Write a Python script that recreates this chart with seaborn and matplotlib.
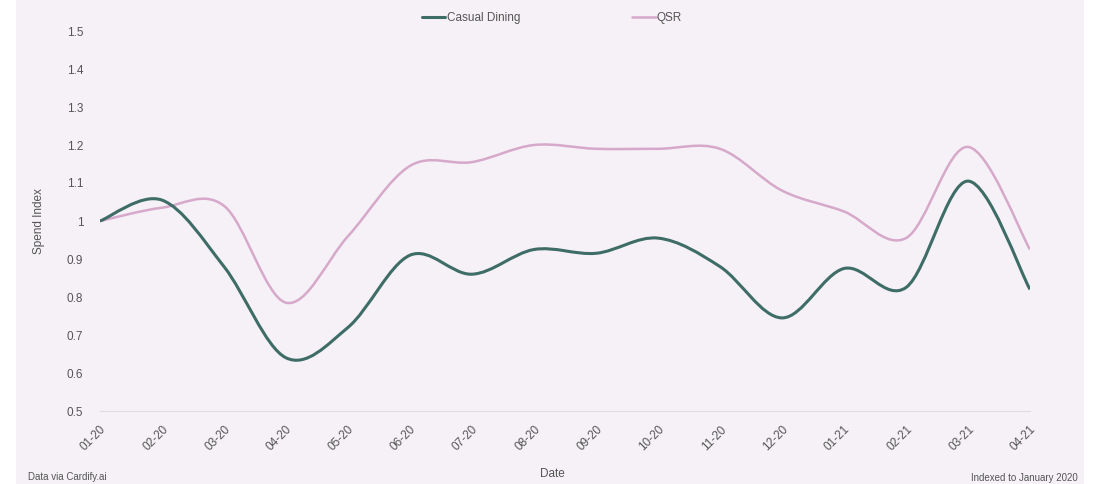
import numpy as np
import pandas as pd
import matplotlib
matplotlib.use('Agg')
import matplotlib.pyplot as plt
from matplotlib.path import Path
from matplotlib.patches import PathPatch, Rectangle
import seaborn as sns

#%% data
months = ['01-20','02-20','03-20','04-20','05-20','06-20','07-20','08-20',
          '09-20','10-20','11-20','12-20','01-21','02-21','03-21','04-21']
casualDining = [1.0, 1.055, 0.88, 0.64, 0.72, 0.91, 0.86, 0.925,
                0.915, 0.955, 0.88, 0.745, 0.875, 0.825, 1.105, 0.82]
qsr = [1.0, 1.035, 1.04, 0.785, 0.96, 1.145, 1.155, 1.2,
       1.19, 1.19, 1.19, 1.08, 1.025, 0.955, 1.195, 0.925]
yTicks = [0.5, 0.6, 0.7, 0.8, 0.9, 1, 1.1, 1.2, 1.3, 1.4, 1.5]
yTickLabels = ['0.5','0.6','0.7','0.8','0.9','1','1.1','1.2','1.3','1.4','1.5']

bgCol = '#f5f1f6'
tealCol = '#3e6c66'
pinkCol = '#d6a8ca'
txtCol = '#555555'

def smoothPath(x, y, t=0.5):
    # catmull-rom style bezier through the data points (drawing style only)
    x = np.asarray(x, float); y = np.asarray(y, float)
    verts = [(x[0], y[0])]
    codes = [Path.MOVETO]
    n = len(x)
    for i in range(n - 1):
        x0, y0 = (x[i-1], y[i-1]) if i > 0 else (x[i], y[i])
        x3, y3 = (x[i+2], y[i+2]) if i < n - 2 else (x[i+1], y[i+1])
        c1 = (x[i] + (x[i+1] - x0) * t / 3, y[i] + (y[i+1] - y0) * t / 3)
        c2 = (x[i+1] - (x3 - x[i]) * t / 3, y[i+1] - (y3 - y[i]) * t / 3)
        verts += [c1, c2, (x[i+1], y[i+1])]
        codes += [Path.CURVE4] * 3
    return Path(verts, codes)

df = pd.DataFrame({'Date': list(range(len(months))) * 2,
                   'Spend Index': casualDining + qsr,
                   'series': ['Casual Dining'] * len(months) + ['QSR'] * len(months)})

#%% plotting
sns.set_style('white')
plt.rcParams['font.family'] = ['Liberation Sans', 'DejaVu Sans']

fig = plt.figure(figsize=(10.96, 4.84), dpi=100, facecolor='white')
fig.patches.append(Rectangle((16/1096, 0), 1068/1096, 1, transform=fig.transFigure,
                             facecolor=bgCol, edgecolor='none', zorder=-1))
ax = fig.add_axes([100/1096, 1 - 411/484, 930/1096, 380/484])
ax.set_facecolor(bgCol)

sns.lineplot(data=df, x='Date', y='Spend Index', hue='series',
             palette=[tealCol, pinkCol], linewidth=0, ax=ax, legend=False)
ax.add_patch(PathPatch(smoothPath(range(len(months)), qsr), facecolor='none',
                       edgecolor=pinkCol, lw=1.8, transform=ax.transData))
ax.add_patch(PathPatch(smoothPath(range(len(months)), casualDining), facecolor='none',
                       edgecolor=tealCol, lw=2.2, transform=ax.transData))

ax.set_xlim(0, len(months) - 1)
ax.set_ylim(0.5, 1.5)
ax.set_xticks(range(len(months)))
ax.set_xticklabels(months, rotation=45, ha='right', rotation_mode='anchor')
ax.set_yticks(yTicks)
ax.set_yticklabels(yTickLabels)
ax.tick_params(axis='both', length=0, labelsize=8.5, colors=txtCol)
ax.tick_params(axis='x', pad=9)
ax.tick_params(axis='y', pad=12)
for s in ['top', 'right', 'left']:
    ax.spines[s].set_visible(False)
ax.spines['bottom'].set_color('#dddddd')
ax.spines['bottom'].set_linewidth(0.8)
ax.set_xlabel('Date', fontsize=8.5, color=txtCol)
ax.set_ylabel('Spend Index', fontsize=8.5, color=txtCol, labelpad=16)
ax.xaxis.set_label_coords((552 - 100) / 930, -(474 - 411) / 380)
ax.xaxis.label.set_va('center')

handles = [plt.Line2D([], [], color=tealCol, lw=2.2), plt.Line2D([], [], color=pinkCol, lw=1.8)]
fig.legend(handles, ['Casual Dining', 'QSR'], loc='center', bbox_to_anchor=(552/1096, 1 - 18/484),
           ncol=2, frameon=False, fontsize=8.5, handlelength=2.0, handletextpad=0.1,
           columnspacing=9.5, labelcolor=txtCol)

fig.text(28/1096, 1 - 477/484, 'Data via Cardify.ai', fontsize=7, color=txtCol, va='center')
fig.text(1078/1096, 1 - 478/484, 'Indexed to January 2020', fontsize=7, color=txtCol,
         va='center', ha='right')

fig.savefig('out.png', dpi=100, facecolor=fig.get_facecolor())
